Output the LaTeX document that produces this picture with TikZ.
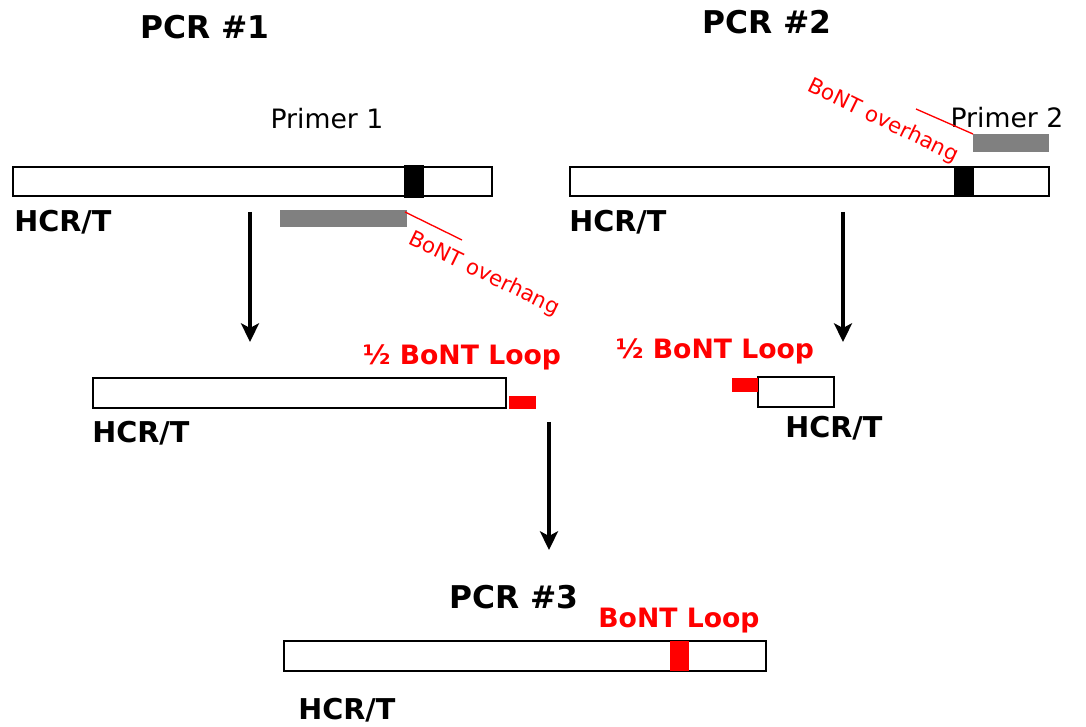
\documentclass[tikz,border=0pt]{standalone}
\usepackage{fontspec}
\setmainfont{DejaVu Sans}
\usetikzlibrary{arrows.meta}
\definecolor{primergray}{RGB}{128,128,128}
\begin{document}
\begin{tikzpicture}[x=0.75pt,y=-0.75pt,
  bar/.style={draw=black, line width=2.2pt, fill=white, inner sep=0pt, outer sep=0pt, anchor=north west},
  blk/.style={fill=#1, inner sep=0pt, outer sep=0pt, anchor=north west},
  title/.style={font=\fontsize{23.5}{27}\selectfont\bfseries, inner sep=0pt},
  hcr/.style={font=\fontsize{21.5}{24}\selectfont\bfseries, inner sep=0pt, anchor=west},
  loop/.style={font=\fontsize{20}{23}\selectfont\bfseries, text=red, inner sep=0pt},
  primer/.style={font=\fontsize{20}{22}\selectfont, inner sep=0pt},
  over/.style={font=\fontsize{16}{19}\selectfont, text=red, inner sep=0pt, rotate=-26},
  flow/.style={line width=3pt, -{Stealth[length=14pt,width=13.5pt,inset=3.5pt]}}
]
\useasboundingbox (0,0) rectangle (1086,727);

% titles
\node[title] (t1) at (205,27) {PCR \#1};
\node[title] (t2) at (767,22) {PCR \#2};
\node[title] (t3) at (514,597) {PCR \#3};

% PCR 1
\node[bar, minimum width=479*0.75pt, minimum height=29*0.75pt] (b1) at (13,167) {};
\node[blk=black, minimum width=20*0.75pt, minimum height=33*0.75pt] (k1) at (404,165) {};
\node[blk=primergray, minimum width=127*0.75pt, minimum height=17*0.75pt] (p1) at (280,210) {};
\node[primer] (pl1) at (327,119) {Primer 1};
\node[hcr] (h1) at (14,222) {HCR/T};
\coordinate (o1a) at (405,212);
\coordinate (o1b) at (462,240);
\draw[red, line width=1pt] (o1a) -- (o1b);
\node[over] (ot1) at (484,274) {BoNT overhang};

% PCR 2
\node[bar, minimum width=479*0.75pt, minimum height=29*0.75pt] (b2) at (570,167) {};
\node[blk=black, minimum width=20*0.75pt, minimum height=31*0.75pt] (k2) at (954,166) {};
\node[blk=primergray, minimum width=76*0.75pt, minimum height=18*0.75pt] (p2) at (973,134) {};
\node[primer] (pl2) at (1007,118) {Primer 2};
\node[hcr] (h2) at (569,222) {HCR/T};
\coordinate (o2a) at (916,109);
\coordinate (o2b) at (973,134);
\draw[red, line width=1pt] (o2a) -- (o2b);
\node[over] (ot2) at (883,121) {BoNT overhang};

% arrows
\coordinate (a1s) at (250,212);
\coordinate (a1e) at (250,342);
\draw[flow] (a1s) -- (a1e);
\coordinate (a2s) at (843,212);
\coordinate (a2e) at (843,342);
\draw[flow] (a2s) -- (a2e);
\coordinate (a3s) at (549,422);
\coordinate (a3e) at (549,550);
\draw[flow] (a3s) -- (a3e);

% middle left
\node[bar, minimum width=413*0.75pt, minimum height=30*0.75pt] (m1) at (93,378) {};
\node[blk=red, minimum width=27*0.75pt, minimum height=13*0.75pt] (r1) at (509,396) {};
\node[loop] (l1) at (462,357) {½ BoNT Loop};
\node[hcr] (h3) at (92,433) {HCR/T};

% middle right
\node[bar, minimum width=76*0.75pt, minimum height=30*0.75pt] (m2) at (758,377) {};
\node[blk=red, minimum width=26*0.75pt, minimum height=14*0.75pt] (r2) at (732,378) {};
\node[loop] (l2) at (715,351) {½ BoNT Loop};
\node[hcr] (h4) at (785,428) {HCR/T};

% PCR 3
\node[bar, minimum width=482*0.75pt, minimum height=30*0.75pt] (b3) at (284,641) {};
\node[blk=red, minimum width=19*0.75pt, minimum height=30*0.75pt] (r3) at (670,641) {};
\node[loop] (l3) at (679,621) {BoNT Loop};
\node[hcr] (h5) at (298,710) {HCR/T};
\end{tikzpicture}
\end{document}
